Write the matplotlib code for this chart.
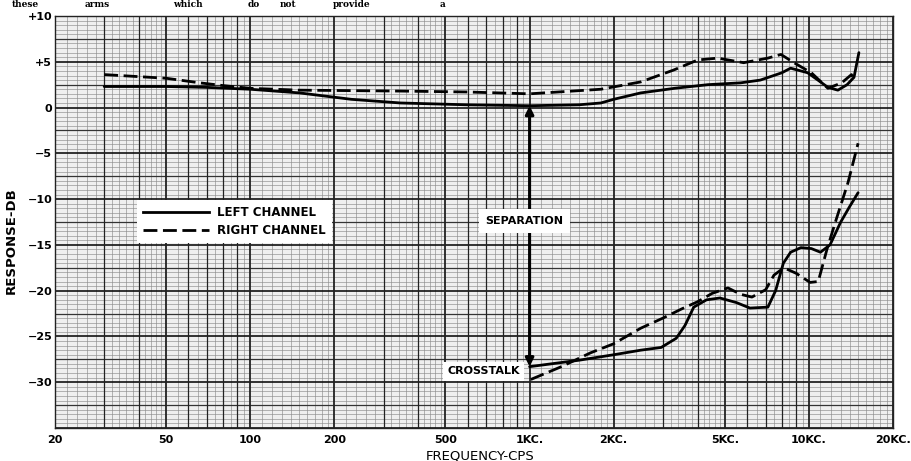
import matplotlib.pyplot as plt
from matplotlib.lines import Line2D
from matplotlib.ticker import NullLocator

# Top response curves (Hz, dB)
left_freq = [30, 50, 70, 100, 150, 230, 345, 600, 1000, 1500, 1800, 2000, 2500, 3300,
             4350, 5700, 6700, 8000, 8600, 9900, 11000, 11700, 12700, 13700, 14500, 15100]
left_db = [2.3, 2.3, 2.2, 2.0, 1.6, 0.9, 0.5, 0.3, 0.2, 0.3, 0.5, 0.9, 1.6, 2.1,
           2.5, 2.7, 3.0, 3.8, 4.3, 3.8, 2.8, 2.2, 1.9, 2.5, 3.3, 6.0]

right_freq = [30, 50, 66, 80, 100, 150, 345, 600, 1000, 1800, 2500, 3280, 4000, 4720,
              5840, 7130, 7940, 8840, 10200, 11700, 13100, 14200, 14500]
right_db = [3.6, 3.2, 2.7, 2.4, 2.1, 1.9, 1.8, 1.7, 1.5, 2.0, 2.8, 4.1, 5.2, 5.4,
            4.9, 5.4, 5.8, 4.9, 3.8, 2.1, 2.7, 3.6, 3.0]

# Crosstalk curves
left_ct_freq = [1000, 1500, 2000, 2500, 2960, 3350, 3600, 3870, 4300, 4800, 5500, 6150,
                7130, 7600, 8100, 8600, 9360, 10200, 11000, 11900, 13000, 14000, 15000]
left_ct_db = [-28.3, -27.6, -27.0, -26.5, -26.2, -25.2, -23.8, -21.8, -21.0, -20.8, -21.3, -21.9,
              -21.8, -20.0, -17.0, -15.8, -15.3, -15.4, -15.8, -15.0, -12.5, -10.8, -9.3]

right_ct_freq = [1010, 1300, 1650, 2000, 2500, 3000, 3500, 4000, 4500, 5130, 5700, 6250,
                 7000, 7500, 8130, 9000, 10100, 10800, 11600, 12500, 13800, 15000]
right_ct_db = [-29.7, -28.3, -26.8, -25.8, -24.1, -23.0, -22.0, -21.2, -20.3, -19.7, -20.4, -20.7,
               -19.9, -18.3, -17.5, -18.1, -19.1, -19.0, -15.5, -12.3, -8.2, -3.9]

x_ticks = [20, 50, 100, 200, 500, 1000, 2000, 5000, 10000, 20000]
x_labels = ["20", "50", "100", "200", "500", "1KC.", "2KC.", "5KC.", "10KC.", "20KC."]
y_ticks = [10, 5, 0, -5, -10, -15, -20, -25, -30]
y_labels = ["+10", "+5", "0", "\u22125", "\u221210", "\u221215", "\u221220", "\u221225", "\u221230"]

fig = plt.figure(figsize=(9.12, 4.61), dpi=100)
ax = fig.add_axes([55 / 912, 1 - 428 / 461, 838 / 912, 412 / 461])
ax.set_xscale('log')
ax.set_xlim(20, 20000)
ax.set_ylim(-35, 10)
ax.set_facecolor('#efefef')

# graph paper: horizontal lines
for i in range(0, 91):
    y = -35 + i * 0.5
    if i % 10 == 0:
        ax.axhline(y, color='#111111', lw=1.2, zorder=1)
    elif i % 5 == 0:
        ax.axhline(y, color='#333333', lw=0.9, zorder=1)
    else:
        ax.axhline(y, color='#8c8c8c', lw=0.45, zorder=0.5)

# graph paper: vertical lines
for d in [10, 100, 1000, 10000]:
    subs = [1 + 0.1 * k for k in range(10)] + [2 + 0.2 * k for k in range(15)] + [5 + 0.5 * k for k in range(10)]
    for s in subs:
        f = s * d
        if f < 20 or f > 20000:
            continue
        if abs(s - round(s)) < 1e-9:
            lw = 1.3 if round(s) in (1, 2, 5) else 0.9
            ax.axvline(f, color='#222222', lw=lw, zorder=1)
        else:
            ax.axvline(f, color='#8c8c8c', lw=0.45, zorder=0.5)

# curves
ax.plot(left_freq, left_db, color='black', lw=2.0, zorder=3, solid_capstyle='round')
ax.plot(right_freq, right_db, color='black', lw=2.0, dashes=(5, 2), zorder=3)
ax.plot(left_ct_freq, left_ct_db, color='black', lw=2.0, zorder=3, solid_capstyle='round')
ax.plot(right_ct_freq, right_ct_db, color='black', lw=2.0, dashes=(5, 2), zorder=3)

# separation arrow
ax.annotate('', xy=(1000, 0.2), xytext=(1000, -28.3),
            arrowprops=dict(arrowstyle='<|-|>', color='black', lw=2.2,
                            mutation_scale=12, shrinkA=0, shrinkB=0), zorder=4)
ax.text(960, -12.4, "SEPARATION", ha='center', va='center', fontsize=8, fontweight='bold',
        bbox=dict(boxstyle='square,pad=0.6', facecolor='white', edgecolor='none'), zorder=5)
ax.text(684, -28.8, "CROSSTALK", ha='center', va='center', fontsize=8, fontweight='bold',
        bbox=dict(boxstyle='square,pad=0.4', facecolor='white', edgecolor='none'), zorder=5)

# legend
handles = [Line2D([], [], color='black', lw=2.0),
           Line2D([], [], color='black', lw=2.0, dashes=(5, 2))]
leg = ax.legend(handles, ["LEFT CHANNEL", "RIGHT CHANNEL"], loc='upper left',
                bbox_to_anchor=(137 / 912, 1 - 200 / 461), bbox_transform=fig.transFigure,
                frameon=True, fancybox=False, facecolor='white', edgecolor='none', framealpha=1,
                prop=dict(size=8.5, weight='bold'), handlelength=5.6, handletextpad=0.7,
                labelspacing=0.45, borderpad=0.5, borderaxespad=0)
leg.set_zorder(5)

# ticks and labels
ax.set_xticks(x_ticks)
ax.set_xticklabels(x_labels, fontsize=8, fontweight='bold')
ax.xaxis.set_minor_locator(NullLocator())
ax.set_yticks(y_ticks)
ax.set_yticklabels(y_labels, fontsize=8, fontweight='bold')
ax.tick_params(length=0)
ax.tick_params(axis='x', pad=5)
ax.tick_params(axis='y', pad=2)
for sp in ax.spines.values():
    sp.set_color('#222222')
    sp.set_linewidth(1.0)

ax.set_ylabel("RESPONSE-DB", fontsize=9.5, fontweight='bold')
ax.yaxis.set_label_coords(-0.045, 0.456)
ax.set_xlabel("FREQUENCY-CPS", fontsize=9.5)
ax.xaxis.set_label_coords(0.507, -0.053)

# line of the page text above the chart
words = [("these", 12), ("arms", 85), ("which", 173), ("do", 248), ("not", 280),
         ("provide", 333), ("a", 440)]
for w, px in words:
    fig.text(px / 912, 1 - 7 / 461, w, fontsize=6.5, fontweight='bold', family='DejaVu Serif',
             ha='left', va='baseline')

fig.savefig('out.png', dpi=100)
